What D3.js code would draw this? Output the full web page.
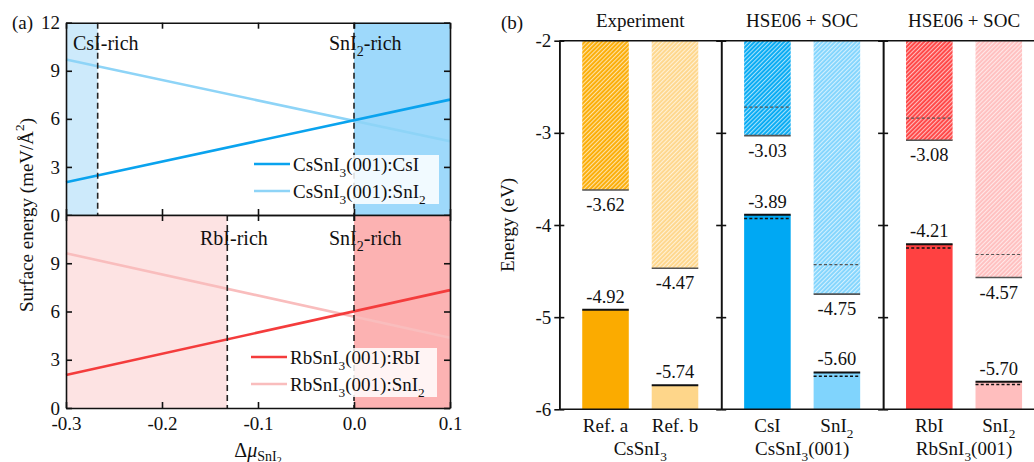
<!DOCTYPE html>
<html>
<head>
<meta charset="utf-8">
<script src="https://cdn.jsdelivr.net/npm/d3@7"></script>
<style>
  body { margin: 0; background: #fff; }
  text { font-family: "Liberation Serif", "Times New Roman", serif; fill: #111; }
</style>
</head>
<body>
<script>
// ---- data, panel (a) ----
var muEnds = [-0.3, 0.1];
var csCsI = [2.05, 7.2];
var csSnI2 = [9.7, 4.6];
var rbRbI = [2.05, 7.33];
var rbSnI2 = [9.62, 4.37];
var csRichLimit = -0.267;
var rbRichLimit = -0.132;
var muTicks = [-0.3, -0.2, -0.1, 0, 0.1];

// ---- data, panel (b) ----
var groupTitles = ["Experiment", "HSE06 + SOC", "HSE06 + SOC"];
var groupNames = ["CsSnI_{3}", "CsSnI_{3}(001)", "RbSnI_{3}(001)"];
var barLabels = ["Ref. a", "Ref. b", "CsI", "SnI_{2}", "RbI", "SnI_{2}"];
var cbm = [-3.62, -4.47, -3.03, -4.75, -3.08, -4.57];
var vbm = [-4.92, -5.74, -3.89, -5.60, -4.21, -5.70];
var cbmDash = [null, null, -2.72, -4.43, -2.84, -4.32];
var vbmDash = [null, null, -3.93, -5.64, -4.25, -5.73];
var energyTicks = [-6, -5, -4, -3, -2];

var barColors = ["#fbab00", "#fed68a", "#00a8f3", "#80d4fd", "#ff4141", "#ffbebe"];

var svg = d3.select("body").append("svg")
    .attr("width", 1034).attr("height", 462);

// text with _{sub} and ^{sup} pieces
function rich(t, s, fs) {
    var parts = s.split(/(_\{[^}]*\}|\^\{[^}]*\})/);
    var cur = 0;
    parts.forEach(function(p) {
        if (!p) return;
        var shift = 0, size = fs, txt = p;
        if (p.indexOf("_{") === 0) { shift = fs * 0.3; size = fs * 0.7; txt = p.slice(2, -1); }
        if (p.indexOf("^{") === 0) { shift = -fs * 0.45; size = fs * 0.7; txt = p.slice(2, -1); }
        t.append("tspan").attr("dy", shift - cur).attr("font-size", size).text(txt);
        cur = shift;
    });
    return t;
}

function label(x, y, s, fs, anchor) {
    var t = svg.append("text").attr("x", x).attr("y", y)
        .attr("font-size", fs).attr("text-anchor", anchor || "start");
    return rich(t, s, fs);
}

// ===================== panel (a) =====================
var xA = d3.scaleLinear().domain([-0.3, 0.1]).range([66, 450]);

var panels = [
    { y: d3.scaleLinear().domain([0, 12]).range([215, 22.7]),
      lim: csRichLimit, light: "#cdeafb", dark: "#9ed9fb",
      series: [{v: csCsI, c: "#0aa3ee", name: "CsSnI_{3}(001):CsI"},
               {v: csSnI2, c: "#8ed4f7", name: "CsSnI_{3}(001):SnI_{2}"}],
      richName: "CsI-rich", richX: 73, richY: 50,
      legend: {x0: 250, x1: 439, y0: 155, y1: 204, lx: 254, ly: [164, 191]},
      yt: [0, 3, 6, 9, 12], bottom: false },
    { y: d3.scaleLinear().domain([0, 12]).range([408, 215]),
      lim: rbRichLimit, light: "#fde3e3", dark: "#fcb2b2",
      series: [{v: rbRbI, c: "#f43c3c", name: "RbSnI_{3}(001):RbI"},
               {v: rbSnI2, c: "#f9bdbd", name: "RbSnI_{3}(001):SnI_{2}"}],
      richName: "RbI-rich", richX: 200, richY: 245,
      legend: {x0: 248, x1: 437, y0: 348, y1: 397, lx: 251, ly: [357, 384]},
      yt: [0, 3, 6, 9], bottom: true }
];

panels.forEach(function(p) {
    var g = svg.append("g");
    // shaded regions
    g.append("rect").attr("x", xA(-0.3)).attr("width", xA(p.lim) - xA(-0.3))
        .attr("y", p.y(12)).attr("height", p.y(0) - p.y(12)).attr("fill", p.light);
    g.append("rect").attr("x", xA(0)).attr("width", xA(0.1) - xA(0))
        .attr("y", p.y(12)).attr("height", p.y(0) - p.y(12)).attr("fill", p.dark);

    // lines
    var line = d3.line().x(function(d, i) { return xA(muEnds[i]); }).y(function(d) { return p.y(d); });
    p.series.slice().reverse().forEach(function(s) {
        g.append("path").datum(s.v).attr("d", line)
            .attr("fill", "none").attr("stroke", s.c).attr("stroke-width", 2.6);
    });

    // dashed limits
    [p.lim, 0].forEach(function(v) {
        g.append("line").attr("x1", xA(v)).attr("x2", xA(v))
            .attr("y1", p.y(12)).attr("y2", p.y(0))
            .attr("stroke", "#222").attr("stroke-width", 1.6).attr("stroke-dasharray", "6,4");
    });

    label(p.richX, p.richY, p.richName, 20);
    label(329, p.richY, "SnI_{2}-rich", 20);

    // legend
    var L = p.legend;
    g.append("rect").attr("x", L.x0).attr("y", L.y0).attr("width", L.x1 - L.x0).attr("height", L.y1 - L.y0)
        .attr("fill", "#fff").attr("opacity", 0.85);
    p.series.forEach(function(s, i) {
        g.append("line").attr("x1", L.lx).attr("x2", L.lx + 36).attr("y1", L.ly[i]).attr("y2", L.ly[i])
            .attr("stroke", s.c).attr("stroke-width", 2.6);
        label(L.lx + 39, L.ly[i] + 7, s.name, 19);
    });

    // axes, ticks inside
    var ax = [];
    ax.push(svg.append("g").attr("transform", "translate(" + xA(-0.3) + ",0)")
        .call(d3.axisLeft(p.y).tickValues(p.yt).tickSize(-6).tickSizeOuter(0).tickPadding(6)
            .tickFormat(function(d) { return String(d); })));
    ax.push(svg.append("g").attr("transform", "translate(" + xA(0.1) + ",0)")
        .call(d3.axisRight(p.y).tickValues(p.yt).tickSize(-6).tickSizeOuter(0).tickFormat("")));
    ax.push(svg.append("g").attr("transform", "translate(0," + p.y(12) + ")")
        .call(d3.axisTop(xA).tickValues(muTicks).tickSize(-6).tickSizeOuter(0).tickFormat("")));
    ax.push(svg.append("g").attr("transform", "translate(0," + p.y(0) + ")")
        .call(d3.axisBottom(xA).tickValues(muTicks).tickSize(-6).tickSizeOuter(0).tickPadding(9)
            .tickFormat(p.bottom ? function(d) { return d.toFixed(1); } : "")));
    ax.forEach(function(a) {
        a.attr("font-family", null).attr("font-size", 19);
        a.selectAll("path, line").attr("stroke", "#111").attr("stroke-width", 1.6);
        a.selectAll("text").attr("fill", "#111");
    });
});

// labels (a)
label(12, 29, "(a)", 19);
rich(svg.append("text").attr("transform", "translate(33,215) rotate(-90)")
    .attr("text-anchor", "middle").attr("font-size", 19), "Surface energy (meV/Å^{2})", 19);

var xl = svg.append("text").attr("x", 258).attr("y", 457).attr("font-size", 20).attr("text-anchor", "middle");
xl.append("tspan").text("Δ");
xl.append("tspan").attr("font-style", "italic").text("μ");
xl.append("tspan").attr("dy", 4).attr("font-size", 14).text("SnI");
xl.append("tspan").attr("dy", 3).attr("font-size", 10).text("2");

// ===================== panel (b) =====================
var yB = d3.scaleLinear().domain([-6, -2]).range([409.3, 40.7]);
var gx = d3.scaleBand().domain([0, 1, 2]).range([559.3, 1045]);
var bx = d3.scaleBand().domain([0, 1]).range([0, gx.bandwidth()]).paddingInner(0.33).paddingOuter(0.33);

var defs = svg.append("defs");
barColors.forEach(function(c, i) {
    var pat = defs.append("pattern").attr("id", "hatch" + i)
        .attr("patternUnits", "userSpaceOnUse").attr("width", 3).attr("height", 3)
        .attr("patternTransform", "rotate(45)");
    pat.append("rect").attr("width", 3).attr("height", 3).attr("fill", c);
    pat.append("line").attr("x1", 0.5).attr("x2", 0.5).attr("y1", 0).attr("y2", 3)
        .attr("stroke", "#fff").attr("stroke-width", 1.3).attr("stroke-opacity", 0.65);
});

var bars = cbm.map(function(d, i) {
    var g = Math.floor(i / 2);
    return { i: i, g: g, x: gx(g) + bx(i % 2), cbm: d, vbm: vbm[i], cd: cbmDash[i], vd: vbmDash[i], label: barLabels[i] };
});
var bw = bx.bandwidth();

var gb = svg.append("g");
gb.selectAll("rect.cb").data(bars).enter().append("rect")
    .attr("x", function(d) { return d.x; }).attr("width", bw)
    .attr("y", yB(-2)).attr("height", function(d) { return yB(d.cbm) - yB(-2); })
    .attr("fill", function(d) { return "url(#hatch" + d.i + ")"; });
gb.selectAll("rect.vb").data(bars).enter().append("rect")
    .attr("x", function(d) { return d.x; }).attr("width", bw)
    .attr("y", function(d) { return yB(d.vbm); }).attr("height", function(d) { return yB(-6) - yB(d.vbm); })
    .attr("fill", function(d) { return barColors[d.i]; });

// band edges
bars.forEach(function(d) {
    gb.append("line").attr("x1", d.x).attr("x2", d.x + bw).attr("y1", yB(d.cbm)).attr("y2", yB(d.cbm))
        .attr("stroke", "#555").attr("stroke-width", 1.6);
    gb.append("line").attr("x1", d.x).attr("x2", d.x + bw).attr("y1", yB(d.vbm)).attr("y2", yB(d.vbm))
        .attr("stroke", "#111").attr("stroke-width", 2);
    if (d.cd !== null) {
        gb.append("line").attr("x1", d.x).attr("x2", d.x + bw).attr("y1", yB(d.cd)).attr("y2", yB(d.cd))
            .attr("stroke", "#555").attr("stroke-width", 1.2).attr("stroke-dasharray", "3,2.2");
    }
    if (d.vd !== null) {
        gb.append("line").attr("x1", d.x).attr("x2", d.x + bw).attr("y1", yB(d.vd)).attr("y2", yB(d.vd))
            .attr("stroke", "#111").attr("stroke-width", 1.5).attr("stroke-dasharray", "3,2.2");
    }
    var cx = d.x + bw / 2;
    label(cx, yB(d.cbm) + 21, d.cbm.toFixed(2), 18.5, "middle");
    label(cx, yB(d.vbm) - 7, d.vbm.toFixed(2), 18.5, "middle");
    label(cx, 432, d.label, 19, "middle");
});

// frame
[yB(-2), yB(-6)].forEach(function(y) {
    svg.append("line").attr("x1", 559.3).attr("x2", 1045).attr("y1", y).attr("y2", y)
        .attr("stroke", "#111").attr("stroke-width", 1.6);
});
[0, 1, 2].forEach(function(g) {
    var x = gx(g);
    var a1 = svg.append("g").attr("transform", "translate(" + x + ",0)")
        .call(d3.axisLeft(yB).tickValues(energyTicks).tickSize(5).tickSizeOuter(0).tickPadding(3)
            .tickFormat(g === 0 ? function(d) { return String(d); } : ""));
    var a2 = svg.append("g").attr("transform", "translate(" + x + ",0)")
        .call(d3.axisRight(yB).tickValues(energyTicks).tickSize(5).tickSizeOuter(0).tickFormat(""));
    [a1, a2].forEach(function(a) {
        a.attr("font-family", null).attr("font-size", 19);
        a.selectAll("path, line").attr("stroke", "#111").attr("stroke-width", 1.6);
        a.selectAll("text").attr("fill", "#111");
    });
    var cx = x + gx.bandwidth() / 2;
    label(cx, 27, groupTitles[g], 19, "middle");
    label(cx, 455, groupNames[g], 19, "middle");
});

label(501, 29, "(b)", 19);
svg.append("text").attr("transform", "translate(514,225) rotate(-90)")
    .attr("text-anchor", "middle").attr("font-size", 19).text("Energy (eV)");
</script>
</body>
</html>
